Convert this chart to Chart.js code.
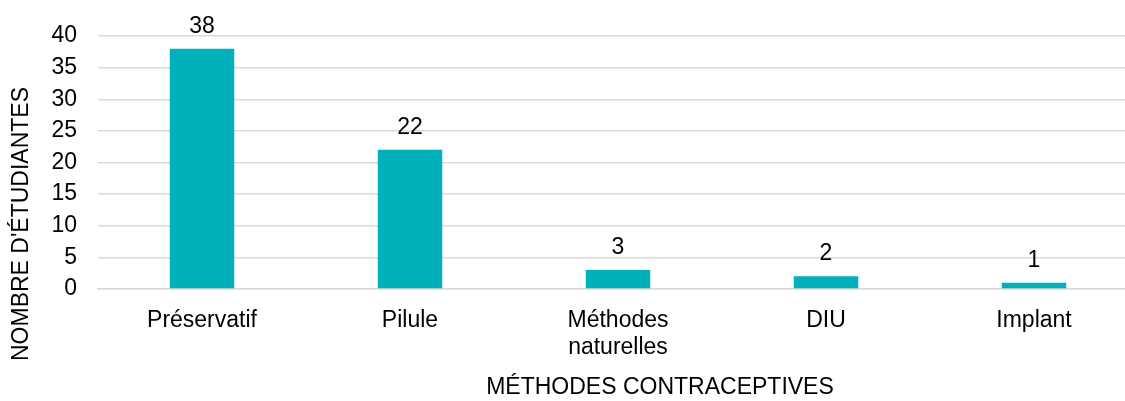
<!DOCTYPE html>
<html>
<head>
<meta charset="utf-8">
<script src="https://cdn.jsdelivr.net/npm/chart.js@4.4.0/dist/chart.umd.min.js"></script>
<style>
  html, body { margin: 0; padding: 0; background: #fff; overflow: hidden; }
  #wrap { width: 1140px; height: 401px; }
</style>
</head>
<body>
<div id="wrap"><canvas id="graphe" width="1140" height="401"></canvas></div>
<script>
const methodes = ["Préservatif", "Pilule", ["Méthodes", "naturelles"], "DIU", "Implant"];
const nombres = [38, 22, 3, 2, 1];
const titreX = "MÉTHODES CONTRACEPTIVES";
const titreY = "NOMBRE D'ÉTUDIANTES";

const police = "'Liberation Sans', Arial, sans-serif";

// étiquettes de valeur + titres des axes
const etiquettes = {
  id: "etiquettes",
  afterDatasetsDraw(chart) {
    const ctx = chart.ctx;
    ctx.save();
    ctx.fillStyle = "#000";
    ctx.font = "23px " + police;
    ctx.textAlign = "center";
    ctx.textBaseline = "alphabetic";
    chart.getDatasetMeta(0).data.forEach((barre, i) => {
      ctx.fillText(String(nombres[i]), barre.x, barre.y - 16);
    });

    ctx.textBaseline = "middle";
    ctx.fillText(titreX, 660, 388);

    ctx.translate(22, 224);
    ctx.rotate(-Math.PI / 2);
    ctx.fillText(titreY, 0, 0);
    ctx.restore();
  }
};

new Chart(document.getElementById("graphe"), {
  type: "bar",
  data: {
    labels: methodes,
    datasets: [
      {
        label: "",
        data: nombres,
        backgroundColor: "#00B0BA",
        borderWidth: 0,
        barPercentage: 1,
        categoryPercentage: 0.31,
      },
    ],
  },
  options: {
    responsive: false,
    animation: false,
    layout: {
      padding: { top: 36, right: 2, bottom: 0, left: 0 },
    },
    plugins: {
      legend: { display: false },
      tooltip: { enabled: false },
    },
    scales: {
      x: {
        grid: { display: false },
        border: { display: true, color: "#d9d9d9", width: 1.5 },
        ticks: {
          color: "#000",
          padding: 10,
          maxRotation: 0,
          font: { family: police, size: 23, lineHeight: 1.17 },
        },
        afterFit(scale) {
          scale.height = 112;
        },
      },
      y: {
        beginAtZero: true,
        min: 0,
        max: 40,
        grid: { color: "#d9d9d9", lineWidth: 1.5, drawTicks: false },
        border: { display: false },
        ticks: {
          stepSize: 5,
          color: "#000",
          padding: 21,
          font: { family: police, size: 23 },
        },
        afterFit(scale) {
          scale.width = 98;
        },
      },
    },
  },
  plugins: [etiquettes],
});
</script>
</body>
</html>
